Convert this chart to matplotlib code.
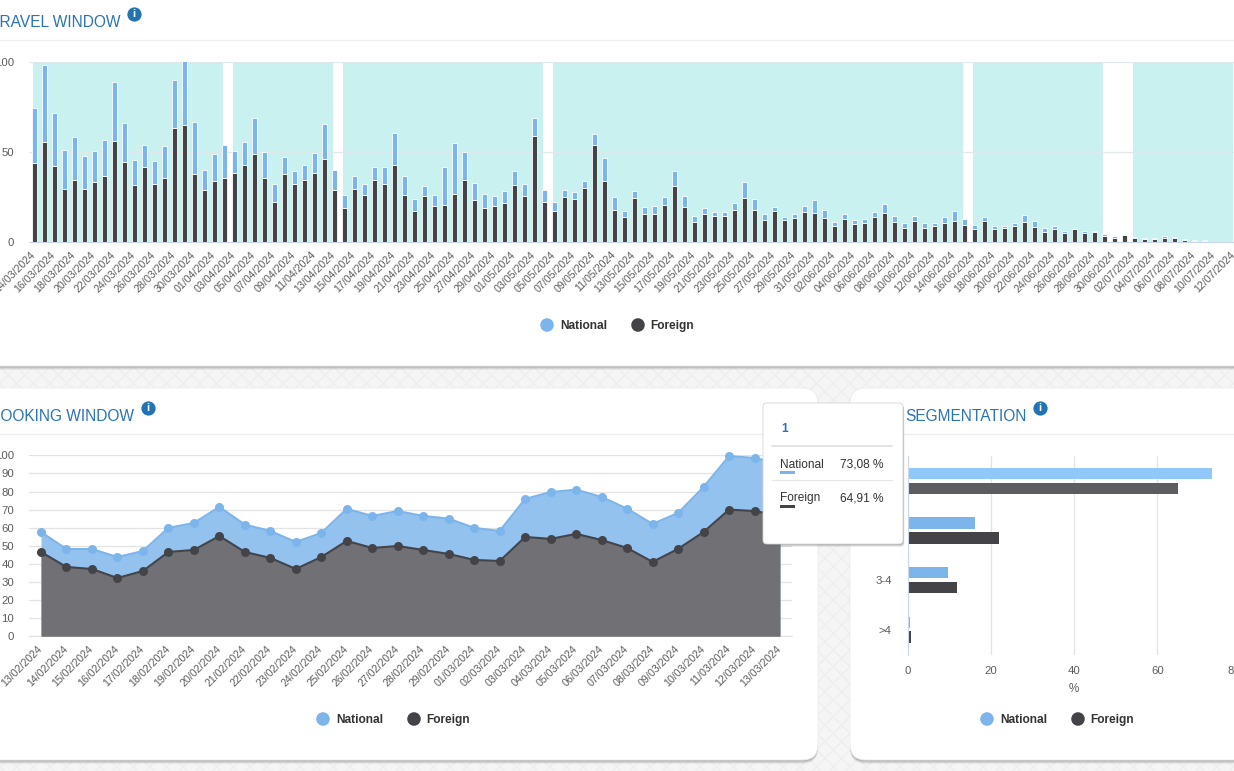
import matplotlib
matplotlib.use("Agg")
import matplotlib.pyplot as plt
from matplotlib.patches import FancyBboxPatch, Rectangle

plt.rcParams['font.family'] = ['Liberation Sans', 'DejaVu Sans']
plt.rcParams['hatch.linewidth'] = 1.0

BLUE = '#7cb5ec'
DARK = '#434348'
GRID = '#e3e3e3'
AXIS = '#ccd6eb'
LABEL = '#5c5c5c'
TITLE = '#2a74b2'

# Travel window
travel_dates = [
    '14/03/2024', '15/03/2024', '16/03/2024', '17/03/2024', '18/03/2024', '19/03/2024', '20/03/2024',
    '21/03/2024', '22/03/2024', '23/03/2024', '24/03/2024', '25/03/2024', '26/03/2024', '27/03/2024',
    '28/03/2024', '29/03/2024', '30/03/2024', '31/03/2024', '01/04/2024', '02/04/2024', '03/04/2024',
    '04/04/2024', '05/04/2024', '06/04/2024', '07/04/2024', '08/04/2024', '09/04/2024', '10/04/2024',
    '11/04/2024', '12/04/2024', '13/04/2024', '14/04/2024', '15/04/2024', '16/04/2024', '17/04/2024',
    '18/04/2024', '19/04/2024', '20/04/2024', '21/04/2024', '22/04/2024', '23/04/2024', '24/04/2024',
    '25/04/2024', '26/04/2024', '27/04/2024', '28/04/2024', '29/04/2024', '30/04/2024', '01/05/2024',
    '02/05/2024', '03/05/2024', '04/05/2024', '05/05/2024', '06/05/2024', '07/05/2024', '08/05/2024',
    '09/05/2024', '10/05/2024', '11/05/2024', '12/05/2024', '13/05/2024', '14/05/2024', '15/05/2024',
    '16/05/2024', '17/05/2024', '18/05/2024', '19/05/2024', '20/05/2024', '21/05/2024', '22/05/2024',
    '23/05/2024', '24/05/2024', '25/05/2024', '26/05/2024', '27/05/2024', '28/05/2024', '29/05/2024',
    '30/05/2024', '31/05/2024', '01/06/2024', '02/06/2024', '03/06/2024', '04/06/2024', '05/06/2024',
    '06/06/2024', '07/06/2024', '08/06/2024', '09/06/2024', '10/06/2024', '11/06/2024', '12/06/2024',
    '13/06/2024', '14/06/2024', '15/06/2024', '16/06/2024', '17/06/2024', '18/06/2024', '19/06/2024',
    '20/06/2024', '21/06/2024', '22/06/2024', '23/06/2024', '24/06/2024', '25/06/2024', '26/06/2024',
    '27/06/2024', '28/06/2024', '29/06/2024', '30/06/2024', '01/07/2024', '02/07/2024', '03/07/2024',
    '04/07/2024', '05/07/2024', '06/07/2024', '07/07/2024', '08/07/2024', '09/07/2024', '10/07/2024',
    '11/07/2024', '12/07/2024',
]
# stack tops, the national part is total minus foreign
travel_foreign = [
    43.6, 55.6, 42.0, 29.6, 34.6, 29.3, 33.0, 36.3, 56.2, 44.2, 31.5, 41.4, 32.0, 35.2, 63.4, 65.0,
    37.4, 28.7, 34.0, 35.7, 38.0, 42.4, 49.0, 35.7, 21.9, 37.4, 32.4, 34.6, 38.0, 46.2, 28.7, 18.6,
    29.6, 26.3, 34.6, 31.9, 42.9, 25.8, 17.0, 25.3, 19.7, 20.3, 26.4, 34.1, 23.1, 18.6, 19.7, 21.4,
    31.4, 25.3, 59.0, 22.0, 17.0, 24.7, 23.6, 29.7, 54.0, 33.6, 18.0, 13.7, 24.2, 15.3, 15.3, 20.3,
    30.8, 19.2, 10.9, 15.3, 14.2, 14.2, 18.0, 24.2, 17.5, 12.0, 17.0, 12.0, 13.1, 16.4, 15.9, 13.1,
    8.7, 12.5, 9.8, 10.3, 13.7, 15.9, 10.9, 7.6, 11.4, 7.6, 8.7, 10.3, 11.4, 9.2, 7.0, 11.4,
    7.0, 7.6, 8.7, 10.9, 8.1, 5.3, 7.0, 4.8, 7.0, 4.8, 5.3, 3.5, 2.4, 4.1, 2.4, 1.8,
    1.8, 2.0, 2.0, 1.3, 0.7, 0.7, 0.0, 0.0, 0.0,
]
travel_total = [
    74.4, 98.2, 71.6, 51.2, 58.4, 47.9, 50.6, 56.7, 88.8, 66.1, 45.7, 54.0, 44.6, 53.4, 89.9, 100.0,
    66.7, 40.1, 49.0, 54.0, 50.6, 55.6, 68.9, 50.0, 31.9, 47.3, 39.6, 42.4, 49.5, 65.6, 40.1, 25.8,
    36.8, 31.9, 41.3, 41.3, 60.6, 36.8, 23.6, 30.8, 25.8, 41.3, 54.6, 49.6, 32.5, 26.4, 25.3, 28.0,
    39.1, 31.9, 68.5, 28.6, 22.0, 28.6, 27.5, 33.6, 59.6, 46.3, 24.7, 17.0, 28.0, 19.2, 19.7, 24.7,
    39.1, 25.3, 14.2, 18.6, 16.4, 16.4, 21.4, 33.0, 23.6, 15.3, 19.2, 13.7, 15.3, 19.7, 23.1, 18.0,
    10.9, 15.3, 12.0, 12.5, 16.4, 20.8, 14.2, 10.3, 14.2, 10.3, 10.3, 13.7, 17.0, 12.5, 9.2, 13.7,
    8.7, 8.7, 10.3, 14.8, 11.4, 7.6, 8.7, 5.9, 7.4, 5.9, 6.3, 4.6, 3.5, 4.1, 3.0, 2.4,
    2.4, 3.1, 2.6, 1.7, 1.1, 1.3, 0.2, 0.1, 0.0,
]
travel_national = [t - f for t, f in zip(travel_total, travel_foreign)]
# teal periods, first and last date of each
travel_periods = [
    ('14/03/2024', '02/04/2024'), ('03/04/2024', '13/04/2024'), ('14/04/2024', '04/05/2024'),
    ('05/05/2024', '15/06/2024'), ('16/06/2024', '29/06/2024'), ('02/07/2024', '12/07/2024'),
]

# Booking window
booking_dates = [
    '13/02/2024', '14/02/2024', '15/02/2024', '16/02/2024', '17/02/2024', '18/02/2024', '19/02/2024',
    '20/02/2024', '21/02/2024', '22/02/2024', '23/02/2024', '24/02/2024', '25/02/2024', '26/02/2024',
    '27/02/2024', '28/02/2024', '29/02/2024', '01/03/2024', '02/03/2024', '03/03/2024', '04/03/2024',
    '05/03/2024', '06/03/2024', '07/03/2024', '08/03/2024', '09/03/2024', '10/03/2024', '11/03/2024',
    '12/03/2024', '13/03/2024',
]
booking_national = [
    57.6, 48.2, 48.2, 43.8, 47.1, 59.9, 62.6, 71.5, 61.7, 58.2, 52.1, 57.1, 70.4, 66.5, 69.2,
    66.5, 65.0, 59.9, 58.2, 75.9, 79.7, 81.0, 77.0, 70.5, 62.1, 68.1, 82.5, 99.6, 98.5, 95.6,
]
booking_foreign = [
    46.6, 38.3, 37.2, 32.2, 36.1, 46.6, 47.7, 55.4, 46.6, 43.3, 37.2, 43.8, 52.7, 48.8, 49.9,
    47.7, 45.5, 42.2, 41.6, 54.9, 53.8, 56.6, 53.2, 48.8, 41.1, 48.3, 57.6, 70.0, 69.2, 66.7,
]

# Segmentation
segments = ['1', '2', '3-4', '>4']
segment_national = [73.08, 16.2, 9.7, 0.6]
segment_foreign = [64.91, 22.0, 11.8, 0.8]

W, H = 1234, 771
fig = plt.figure(figsize=(W / 100, H / 100), dpi=100)


def px_axes(left, top, right, bottom, **kw):
    # axes placed with pixel edges, top-left origin
    return fig.add_axes([left / W, 1 - bottom / H, (right - left) / W, (bottom - top) / H], **kw)


def overlay(zorder):
    a = px_axes(0, 0, W, H, zorder=zorder)
    a.set_xlim(0, W)
    a.set_ylim(H, 0)
    a.axis('off')
    a.patch.set_alpha(0)
    return a


def card(a, x0, y0, x1, y1, radius=16):
    for off, alpha in [(4, 0.10), (3, 0.15), (2, 0.22), (1, 0.25)]:
        a.add_patch(FancyBboxPatch((x0, y0 + off), x1 - x0, y1 - y0, boxstyle=f'round,pad=0,rounding_size={radius}',
                                   fc='#777777', ec='none', alpha=alpha))
    a.add_patch(FancyBboxPatch((x0, y0), x1 - x0, y1 - y0, boxstyle=f'round,pad=0,rounding_size={radius}',
                               fc='white', ec='#ececec', lw=0.6))


def heading(a, text, x_right, y, x_icon, y_icon, line_y, x0, x1):
    a.text(x_right, y, text, ha='right', va='baseline', fontsize=11.2, color=TITLE)
    a.scatter([x_icon], [y_icon], s=105, color='#2173b3', linewidths=0, zorder=5)
    a.text(x_icon, y_icon + 0.3, 'i', ha='center', va='center', fontsize=8, fontweight='bold', color='white', zorder=6)
    a.plot([x0, x1], [line_y, line_y], color='#eeeeee', lw=0.9)


def legend(a, x_nat, x_for, y):
    a.scatter([x_nat, x_for], [y, y], s=95, color=[BLUE, DARK], linewidths=0)
    a.text(x_nat + 13, y + 1.3, 'National', ha='left', va='center', fontsize=8.6, fontweight='bold', color='#333333')
    a.text(x_for + 12, y + 1.3, 'Foreign', ha='left', va='center', fontsize=8.6, fontweight='bold', color='#333333')


def style_axis(a):
    for s in ['top', 'right', 'left']:
        a.spines[s].set_visible(False)
    a.spines['bottom'].set_color(AXIS)
    a.spines['bottom'].set_linewidth(0.8)
    a.tick_params(axis='both', length=0, labelsize=8.2, labelcolor=LABEL)
    a.set_facecolor('none')


# page background and cards
bg = overlay(0)
bg.add_patch(Rectangle((0, 0), W, H, fc='#f5f5f5', ec='#eeeeee', hatch='xx', lw=0))
card(bg, -30, -30, 1264, 366)
card(bg, -30, 388, 818, 760)
card(bg, 850, 388, 1264, 760)

heading(bg, 'TRAVEL WINDOW', 121, 27, 134, 14, 40, 0, W)
heading(bg, 'BOOKING WINDOW', 134, 421, 148, 408, 434, 0, 818)
heading(bg, 'SEGMENTATION', 1027, 421, 1040, 408, 434, 850, W)
legend(bg, 547, 638, 325)
legend(bg, 323, 414, 719)
legend(bg, 987, 1078, 719)

# Travel window stacked bars
ax1 = px_axes(29, 61.5, W, 242, zorder=1)
x1 = list(range(len(travel_dates)))
ax1.set_xlim(-0.5, 119.76)
ax1.set_ylim(0, 100)
for start, end in travel_periods:
    ax1.axvspan(travel_dates.index(start) - 0.1, travel_dates.index(end) - 0.1, color='#c9f1f0', lw=0, zorder=0)
ax1.set_yticks([0, 50, 100])
ax1.set_yticklabels(['0', '50', '100'])
ax1.yaxis.grid(True, color='#dfe9e9', lw=0.9)
ax1.set_axisbelow(True)
ax1.bar(x1, travel_foreign, width=0.5, color=DARK, edgecolor='white', linewidth=0.6, zorder=2)
ax1.bar(x1, travel_national, bottom=travel_foreign, width=0.5, color=BLUE, edgecolor='white', linewidth=0.6, zorder=2)
ax1.set_xticks(x1[::2])
ax1.set_xticklabels(travel_dates[::2], rotation=45, ha='right', va='center', rotation_mode='anchor')
style_axis(ax1)
ax1.tick_params(axis='x', pad=8, labelsize=7.7)
ax1.tick_params(axis='y', pad=10.8)

# Booking window areas
ax2 = px_axes(29, 455.3, 792, 636.3, zorder=1)
x2 = list(range(len(booking_dates)))
ax2.set_xlim(-0.47, 29.47)
ax2.set_ylim(0, 100)
ax2.set_yticks(range(0, 101, 10))
ax2.yaxis.grid(True, color=GRID, lw=0.9, zorder=0)
ax2.set_axisbelow(True)
ax2.fill_between(x2, booking_national, 0, color='#93c2ee', lw=0, zorder=2)
ax2.fill_between(x2, booking_foreign, 0, color='#717175', lw=0, zorder=3)
ax2.plot(x2, booking_national, color=BLUE, lw=1.5, marker='o', ms=6.5, mew=0, zorder=4, clip_on=False)
ax2.plot(x2, booking_foreign, color=DARK, lw=1.5, marker='o', ms=6.5, mew=0, zorder=5, clip_on=False)
ax2.set_xticks(x2)
ax2.set_xticklabels(booking_dates, rotation=45, ha='right', va='center', rotation_mode='anchor')
style_axis(ax2)
ax2.spines['bottom'].set_color(GRID)
ax2.tick_params(axis='x', pad=8, labelsize=7.7)
ax2.tick_params(axis='y', pad=10.8)

# Segmentation bars, first row is the hovered one
ax3 = px_axes(907.7, 456, 1240.5, 654.5, zorder=1)
y3 = list(range(len(segments)))
ax3.set_xlim(0, 80)
ax3.set_ylim(3.5, -0.5)
ax3.xaxis.grid(True, color=GRID, lw=0.9, zorder=0)
ax3.set_axisbelow(True)
ax3.barh([y - 0.15 for y in y3], segment_national, height=0.23, color=['#90c8fb', BLUE, BLUE, BLUE], zorder=2)
ax3.barh([y + 0.15 for y in y3], segment_foreign, height=0.23, color=['#5c5c61', DARK, DARK, DARK], zorder=2)
ax3.set_xticks([0, 20, 40, 60, 80])
ax3.set_yticks(y3)
ax3.set_yticklabels(segments)
ax3.set_xlabel('%', fontsize=8.4, color=LABEL, labelpad=5)
style_axis(ax3)
ax3.spines['bottom'].set_visible(False)
ax3.spines['left'].set_visible(True)
ax3.spines['left'].set_color(AXIS)
ax3.spines['left'].set_linewidth(0.8)
ax3.tick_params(axis='x', pad=8)
ax3.tick_params(axis='y', pad=11.5)
# last label is pulled in so that it starts inside the card
ax3.get_xticklabels()[-1].set_ha('right')

# Tooltip over the lower charts
top = overlay(4)
for off, alpha in [(3, 0.12), (2, 0.2), (1, 0.3)]:
    top.add_patch(FancyBboxPatch((763 + off * 0.5, 403 + off), 140, 141, boxstyle='round,pad=0,rounding_size=4',
                                 fc='#666666', ec='none', alpha=alpha))
top.add_patch(FancyBboxPatch((763, 403), 140, 141, boxstyle='round,pad=0,rounding_size=4', fc='white', ec='#d5d5d5', lw=0.6))
top.text(781, 429, segments[0], ha='left', va='center', fontsize=8.6, fontweight='bold', color=TITLE)
top.plot([772, 892], [446, 446], color='#dddddd', lw=1.1)
top.plot([772, 892], [480, 480], color='#e6e6e6', lw=0.8)
top.text(780, 464.5, 'National', ha='left', va='center', fontsize=8.6, color='#333333')
top.text(780, 498.5, 'Foreign', ha='left', va='center', fontsize=8.6, color='#333333')
top.add_patch(Rectangle((780, 471), 15, 2.6, fc=BLUE, ec='none'))
top.add_patch(Rectangle((780, 505), 15, 2.6, fc=DARK, ec='none'))
top.text(884, 464.5, f'{segment_national[0]:.2f} %'.replace('.', ','), ha='right', va='center', fontsize=8.6, color='#333333')
top.text(884, 498.5, f'{segment_foreign[0]:.2f} %'.replace('.', ','), ha='right', va='center', fontsize=8.6, color='#333333')

plt.savefig('out.png', dpi=100)
